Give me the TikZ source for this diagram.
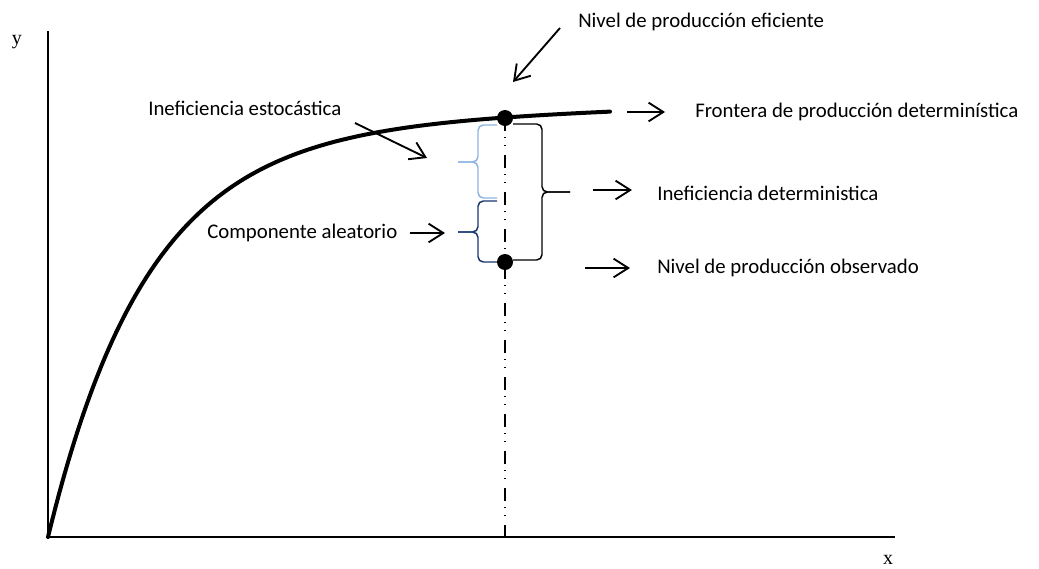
\documentclass[tikz,border=0pt]{standalone}
\usepackage{fontspec}
\setmainfont{Carlito}
\newfontfamily\axisfont{Liberation Serif}
\usetikzlibrary{arrows.meta}
\definecolor{lightbrace}{RGB}{141,179,226}
\definecolor{darkbrace}{RGB}{23,55,110}
\begin{document}
\begin{tikzpicture}[x=0.75pt,y=-0.75pt,
  lbl/.style={anchor=west, inner sep=0pt, font=\fontsize{15.6}{18}\selectfont},
  axislbl/.style={inner sep=0pt, font=\axisfont\fontsize{15}{18}\selectfont},
  pointer/.style={line width=1.4pt, -{Straight Barb[length=11pt,width=14pt,line width=1.4pt]}},
  axisline/.style={line width=1.2pt},
  frontier/.style={line width=3pt, line cap=round},
  dot/.style={circle, fill=black, inner sep=0pt, minimum size=12pt},
  guide/.style={line width=1.1pt, dash pattern=on 9.75pt off 4.5pt on 0.75pt off 5.25pt on 0.75pt off 6.75pt},
  bracepath/.style={line width=1.1pt, rounded corners=4pt}]
\useasboundingbox (0,0) rectangle (1039,568);

% axes
\coordinate (O) at (48,537);
\coordinate (ytop) at (48,31);
\coordinate (xend) at (895,537);
\draw[axisline] (ytop) -- (O) -- (xend);
\node[axislbl] (ylab) at (17,42) {y};
\node[axislbl] (xlab) at (888,560) {x};

% production frontier: saturating curve from the origin
\draw[frontier] plot[domain=0:562, samples=150]
  ({48+\x}, {537-410*(1-exp(-\x/100))-0.03*\x});

% efficient and observed points
\coordinate (eff) at (505,118);
\coordinate (obs) at (505,262);
\draw[guide] (eff) -- (eff |- O);

% braces
\draw[bracepath] (513,124) -- (542,124) -- (542,192) -- (570,192);
\draw[bracepath] (513,260) -- (542,260) -- (542,192) -- (570,192);
\draw[bracepath, lightbrace] (497,125) -- (478,125) -- (478,162) -- (458,162);
\draw[bracepath, lightbrace] (497,198) -- (478,198) -- (478,162) -- (458,162);
\draw[bracepath, darkbrace] (497,201) -- (478,201) -- (478,232) -- (458,232);
\draw[bracepath, darkbrace] (497,262) -- (478,262) -- (478,232) -- (458,232);

\node[dot] (effdot) at (eff) {};
\node[dot] (obsdot) at (obs) {};

% labels
\node[lbl] (teff) at (578,22) {Nivel de producción eficiente};
\node[lbl] (tfront) at (695,112) {Frontera de producción determinística};
\node[lbl] (tsto) at (148,108) {Ineficiencia estocástica};
\node[lbl] (tdet) at (657,193) {Ineficiencia deterministica};
\node[lbl] (tobs) at (657,268) {Nivel de producción observado};
\node[lbl] (tcomp) at (207,233) {Componente aleatorio};

% pointers
\coordinate (p1s) at (560,28);  \coordinate (p1e) at (513,82);
\coordinate (p2s) at (627,112); \coordinate (p2e) at (665,112);
\coordinate (p3s) at (355,123); \coordinate (p3e) at (427,158);
\coordinate (p4s) at ([xshift=9pt]tcomp.east); \coordinate (p4e) at (445,233);
\coordinate (p5s) at (593,190); \coordinate (p5e) at (632,190);
\coordinate (p6s) at (585,268); \coordinate (p6e) at (630,268);
\draw[pointer] (p1s) -- (p1e);
\draw[pointer] (p2s) -- (p2e);
\draw[pointer] (p3s) -- (p3e);
\draw[pointer] (p4s) -- (p4e);
\draw[pointer] (p5s) -- (p5e);
\draw[pointer] (p6s) -- (p6e);
\end{tikzpicture}
\end{document}
